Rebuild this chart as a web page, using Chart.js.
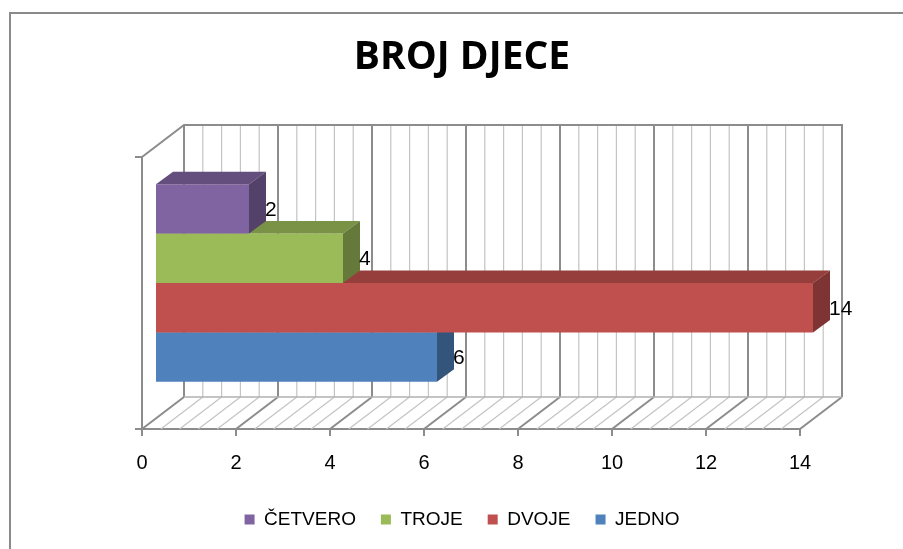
<!DOCTYPE html>
<html>
<head>
<meta charset="utf-8">
<script src="https://cdn.jsdelivr.net/npm/chart.js@4.4.1/dist/chart.umd.min.js"></script>
<style>
  html, body { margin: 0; padding: 0; background: #fff; }
  #wrap { position: relative; width: 903px; height: 549px; }
</style>
</head>
<body>
<div id="wrap"><canvas id="chart"></canvas></div>
<script>
// data
const categories = ['KOM.'];
const seriesNames = ['ČETVERO', 'TROJE', 'DVOJE', 'JEDNO'];
const seriesValues = [[2], [4], [14], [6]];
const seriesColors = ['#8064A2', '#9BBB59', '#C0504D', '#4F81BD'];
const xMin = 0, xMax = 14, xStep = 2;
const minorStep = 0.4;

// 3d look
const WALL_DX = 42, WALL_DY = -32;      // depth of the back wall
const SHIFT_X = 13, SHIFT_Y = -10;      // bars sit a little into the depth
const BAR_DX = 17, BAR_DY = -12.5;      // depth of each bar

function shade(hex, f) {
  const n = parseInt(hex.slice(1), 16);
  const r = Math.round(((n >> 16) & 255) * f);
  const g = Math.round(((n >> 8) & 255) * f);
  const b = Math.round((n & 255) * f);
  return `rgb(${r},${g},${b})`;
}

const framePlugin = {
  id: 'frame',
  beforeDraw(chart) {
    const ctx = chart.ctx;
    ctx.save();
    ctx.fillStyle = '#fff';
    ctx.fillRect(0, 0, chart.width, chart.height);
    ctx.strokeStyle = '#8a8a8a';
    ctx.lineWidth = 2;
    ctx.beginPath();
    ctx.moveTo(10, chart.height + 2);
    ctx.lineTo(10, 13);
    ctx.lineTo(chart.width + 2, 13);
    ctx.stroke();
    ctx.restore();
  }
};

const wallPlugin = {
  id: 'wall3d',
  beforeDatasetsDraw(chart) {
    const { ctx, chartArea: a } = chart;
    const x = chart.scales.x;
    const n = Math.round((xMax - xMin) / minorStep);
    ctx.save();
    for (let i = 0; i <= n; i++) {
      const v = xMin + i * minorStep;
      const px = x.getPixelForValue(v);
      const major = Math.abs(v / xStep - Math.round(v / xStep)) < 1e-6;
      ctx.strokeStyle = major ? '#8c8c8c' : '#c4c4c4';
      ctx.lineWidth = major ? 2 : 1.2;
      ctx.beginPath();
      ctx.moveTo(px + WALL_DX, a.top + WALL_DY);
      ctx.lineTo(px + WALL_DX, a.bottom + WALL_DY);
      ctx.moveTo(px, a.bottom);
      ctx.lineTo(px + WALL_DX, a.bottom + WALL_DY);
      ctx.stroke();
    }
    const l = x.getPixelForValue(xMin), r = x.getPixelForValue(xMax);
    ctx.strokeStyle = '#8c8c8c';
    ctx.lineWidth = 2;
    ctx.beginPath();
    ctx.moveTo(l, a.top);
    ctx.lineTo(l + WALL_DX, a.top + WALL_DY);
    ctx.lineTo(r + WALL_DX, a.top + WALL_DY);
    ctx.lineTo(r + WALL_DX, a.bottom + WALL_DY);
    ctx.stroke();
    ctx.strokeStyle = '#b0b0b0';
    ctx.lineWidth = 1.5;
    ctx.beginPath();
    ctx.moveTo(l + WALL_DX, a.bottom + WALL_DY);
    ctx.lineTo(r + WALL_DX, a.bottom + WALL_DY);
    ctx.stroke();
    ctx.restore();
  },
  beforeDatasetDraw(chart) {
    chart.ctx.save();
    chart.ctx.translate(SHIFT_X, SHIFT_Y);
  },
  afterDatasetDraw(chart, args) {
    const ctx = chart.ctx;
    const color = seriesColors[args.index];
    const values = chart.data.datasets[args.index].data;
    args.meta.data.forEach((bar, j) => {
      const { x, y, base, height } = bar.getProps(['x', 'y', 'base', 'height'], true);
      const top = y - height / 2, bottom = y + height / 2;
      // top face
      ctx.fillStyle = shade(color, 0.78);
      ctx.beginPath();
      ctx.moveTo(base, top);
      ctx.lineTo(x, top);
      ctx.lineTo(x + BAR_DX, top + BAR_DY);
      ctx.lineTo(base + BAR_DX, top + BAR_DY);
      ctx.closePath();
      ctx.fill();
      // end face
      ctx.fillStyle = shade(color, 0.65);
      ctx.beginPath();
      ctx.moveTo(x, top);
      ctx.lineTo(x + BAR_DX, top + BAR_DY);
      ctx.lineTo(x + BAR_DX, bottom + BAR_DY);
      ctx.lineTo(x, bottom);
      ctx.closePath();
      ctx.fill();
      // value label
      ctx.fillStyle = '#000';
      ctx.font = '21px "Liberation Sans"';
      ctx.textAlign = 'left';
      ctx.textBaseline = 'middle';
      ctx.fillText(String(values[j]), x + BAR_DX - 1, y + 1);
    });
    ctx.restore();
  }
};

Chart.defaults.font.family = '"Liberation Sans", Arial, sans-serif';
Chart.defaults.color = '#000';

new Chart(document.getElementById('chart'), {
  type: 'bar',
  data: {
    labels: categories,
    datasets: seriesNames.map((name, i) => ({
      label: name,
      data: seriesValues[i],
      backgroundColor: seriesColors[i],
      borderWidth: 0,
      barPercentage: 1,
      categoryPercentage: 0.727,
      clip: false
    }))
  },
  options: {
    indexAxis: 'y',
    responsive: true,
    maintainAspectRatio: false,
    devicePixelRatio: 1,
    animation: false,
    layout: { padding: { top: 13, left: 124, right: 103, bottom: 10 } },
    plugins: {
      title: {
        display: true,
        text: 'BROJ DJECE',
        color: '#000',
        font: { family: '"Open Sans"', size: 39, weight: 'bold' },
        padding: { top: 21.5, bottom: 75.7 }
      },
      legend: {
        position: 'bottom',
        labels: {
          boxWidth: 10,
          boxHeight: 10,
          padding: 25,
          color: '#000',
          font: { size: 19 }
        }
      },
      tooltip: { enabled: false }
    },
    scales: {
      x: {
        min: xMin,
        max: xMax,
        ticks: { stepSize: xStep, font: { size: 20 }, color: '#000', padding: 15 },
        grid: { drawOnChartArea: false, drawTicks: true, tickLength: 7, color: '#8c8c8c', lineWidth: 2 },
        border: { display: true, color: '#8c8c8c', width: 2 },
        afterFit(scale) { scale.height = 56; }
      },
      y: {
        ticks: { font: { size: 21 }, color: '#000', padding: 23 },
        grid: { offset: true, drawOnChartArea: false, drawTicks: true, tickLength: 7, color: '#8c8c8c', lineWidth: 2 },
        border: { display: true, color: '#8c8c8c', width: 2 },
        afterFit(scale) { scale.width = 18; }
      }
    }
  },
  plugins: [framePlugin, wallPlugin]
});
</script>
</body>
</html>
